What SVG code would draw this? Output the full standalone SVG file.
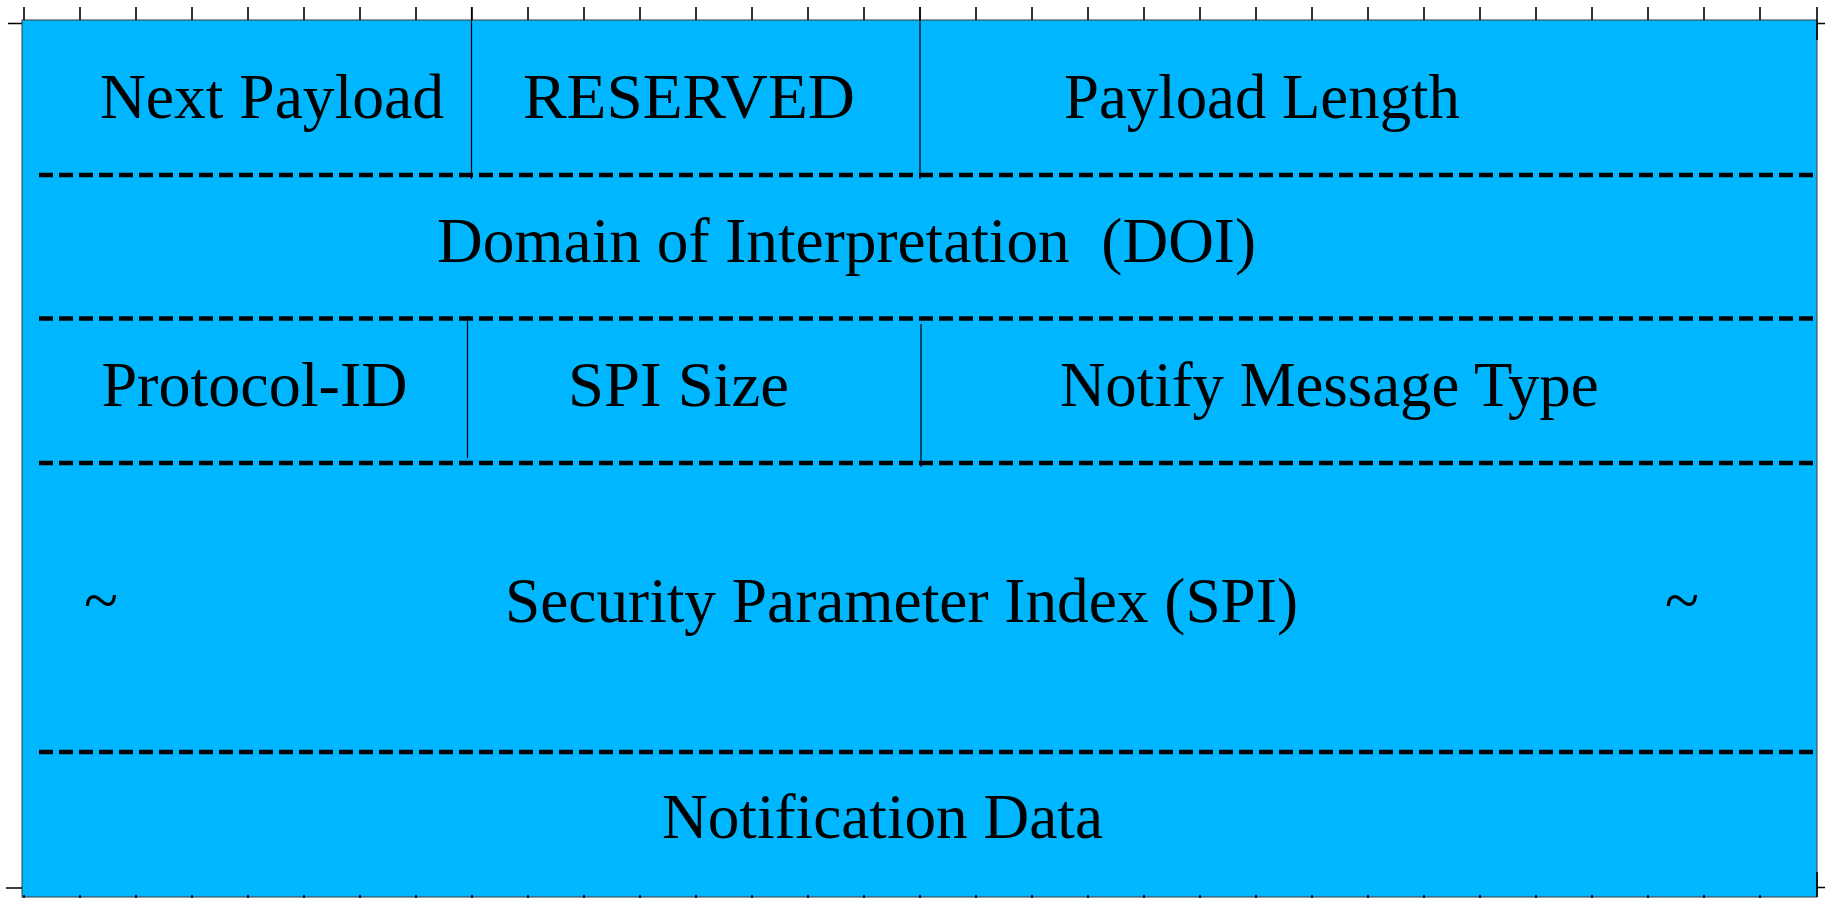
<svg xmlns="http://www.w3.org/2000/svg" width="1825" height="898" viewBox="0 0 1825 898">
  <style>
    .frame { fill: #00B7FF; stroke: #3a3a3a; stroke-width: 1; }
    .tick { stroke: #000; stroke-width: 1.6; fill: none; }
    .sep { stroke: #000; stroke-width: 4.5; stroke-dasharray: 14 6; fill: none; }
    .div { stroke: #000; stroke-width: 1.2; fill: none; }
    .lbl { font-family: "Liberation Serif", "Times New Roman", serif; font-size: 62.8px; fill: #000; }
  </style>

  <!-- header frame -->
  <rect id="frame" class="frame" x="22" y="20" width="1795" height="877"/>

  <!-- bit ruler -->
  <g id="ruler">
    <path class="tick" d="M24 7V20M80 7V20M136 7V20M192 7V20M248 7V20M304 7V20M360 7V20M416 7V20M472 7V20M528 7V20M584 7V20M640 7V20M696 7V20M752 7V20M808 7V20M864 7V20M920 7V20M976 7V20M1032 7V20M1088 7V20M1144 7V20M1200 7V20M1256 7V20M1312 7V20M1368 7V20M1424 7V20M1480 7V20M1536 7V20M1592 7V20M1648 7V20M1704 7V20M1760 7V20M1817 7V40"/>
    <path class="tick" d="M8 23.5H22M1817 23.5H1825M6 888H22M1817 887.5H1825M1817 872V897"/>
    <path class="tick" d="M24 895V898M80 895V898M136 895V898M192 895V898M248 895V898M304 895V898M360 895V898M416 895V898M472 895V898M528 895V898M584 895V898M640 895V898M696 895V898M752 895V898M808 895V898M864 895V898M920 895V898M976 895V898M1032 895V898M1088 895V898M1144 895V898M1200 895V898M1256 895V898M1312 895V898M1368 895V898M1424 895V898M1480 895V898M1536 895V898M1592 895V898M1648 895V898M1704 895V898M1760 895V898"/>
  </g>

  <!-- field separators -->
  <g id="connectors">
    <line class="sep" x1="39" y1="175" x2="1817" y2="175"/>
    <line class="sep" x1="39" y1="318.5" x2="1817" y2="318.5"/>
    <line class="sep" x1="39" y1="463" x2="1817" y2="463"/>
    <line class="sep" x1="39" y1="752" x2="1817" y2="752"/>
    <line class="div" x1="471.5" y1="7" x2="471.5" y2="179"/>
    <line class="div" x1="920" y1="7" x2="920" y2="179"/>
    <line class="div" x1="467.5" y1="316" x2="467.5" y2="458"/>
    <line class="div" x1="921" y1="324" x2="921" y2="467"/>
  </g>

  <!-- fields -->
  <g id="next-payload"><text class="lbl" x="100" y="118.3" textLength="344" lengthAdjust="spacingAndGlyphs">Next Payload</text></g>
  <g id="reserved"><text class="lbl" x="523" y="118.3" textLength="332" lengthAdjust="spacingAndGlyphs">RESERVED</text></g>
  <g id="payload-length"><text class="lbl" x="1064" y="118.3">Payload Length</text></g>
  <g id="doi"><text class="lbl" x="437" y="261.7" xml:space="preserve" textLength="819" lengthAdjust="spacingAndGlyphs">Domain of Interpretation  (DOI)</text></g>
  <g id="protocol-id"><text class="lbl" x="101.5" y="405.7" textLength="306" lengthAdjust="spacingAndGlyphs">Protocol-ID</text></g>
  <g id="spi-size"><text class="lbl" x="568" y="405.7" textLength="221" lengthAdjust="spacingAndGlyphs">SPI Size</text></g>
  <g id="notify-type"><text class="lbl" x="1060" y="405.7">Notify Message Type</text></g>
  <g id="spi">
    <text class="lbl" x="84" y="622">~</text>
    <text class="lbl" x="505" y="621.7" textLength="793" lengthAdjust="spacingAndGlyphs">Security Parameter Index (SPI)</text>
    <text class="lbl" x="1665" y="622">~</text>
  </g>
  <g id="notification-data"><text class="lbl" x="662" y="838" textLength="441" lengthAdjust="spacingAndGlyphs">Notification Data</text></g>
</svg>
